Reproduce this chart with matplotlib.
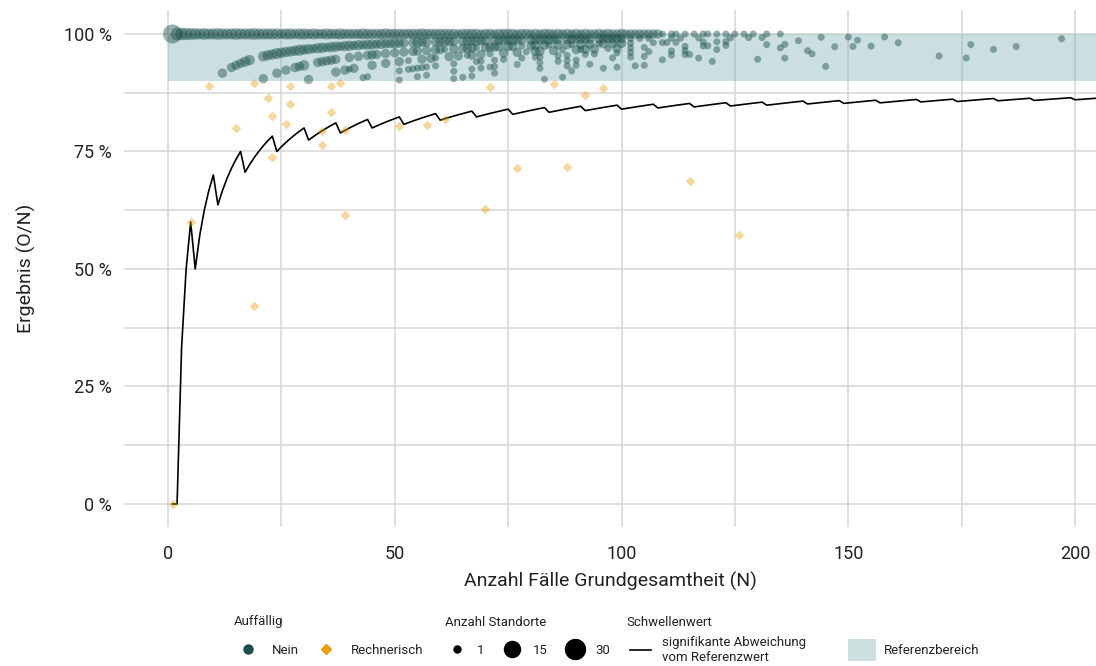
import numpy as np
import pandas as pd
import matplotlib
matplotlib.use("Agg")
import matplotlib.pyplot as plt
from matplotlib.lines import Line2D
from matplotlib.patches import Patch
from matplotlib.ticker import FuncFormatter, MultipleLocator

plt.rcParams["font.family"] = ["Roboto", "DejaVu Sans"]

# Standorte mit O = N (100 %): Fallzahl N und Anzahl Standorte
voll_n = [1, 2, 3, 4, 5, 6, 7, 8, 9, 10, 11, 12, 13, 14, 15, 16, 17, 18, 19, 20,
          21, 22, 23, 24, 25, 26, 27, 28, 29, 30, 31, 32, 33, 34, 35, 36, 37, 38, 39, 40,
          41, 42, 43, 44, 45, 46, 47, 48, 49, 50, 51, 52, 53, 54, 55, 56, 57, 58, 59, 60,
          61, 62, 63, 64, 65, 66, 67, 68, 69, 70, 71, 72, 73, 74, 75, 76, 77, 78, 79, 80,
          81, 82, 83, 84, 85, 86, 87, 88, 89, 90, 91, 92, 93, 94, 95, 96, 97, 98, 99, 100,
          101, 102, 103, 104, 105, 106, 107, 108, 109, 111, 112, 114, 116, 118, 119, 121,
          123, 125, 127, 129, 132, 135]
voll_anzahl = [26, 7, 6, 6, 5, 5, 4, 5, 4, 4, 5, 4, 4, 4, 5, 4, 4, 4, 5, 4,
               4, 4, 4, 4, 3, 4, 4, 3, 4, 4, 3, 4, 3, 3, 4, 3, 3, 4, 3, 3,
               3, 3, 4, 3, 3, 3, 3, 4, 3, 3, 3, 3, 3, 3, 3, 4, 3, 3, 3, 3,
               3, 3, 3, 2, 3, 3, 3, 3, 2, 3, 3, 2, 3, 3, 3, 3, 2, 3, 3, 2,
               3, 2, 3, 3, 2, 3, 2, 3, 2, 3, 2, 3, 2, 2, 3, 2, 3, 2, 2, 3,
               2, 2, 2, 2, 2, 2, 2, 2, 1, 1, 1, 1, 1, 1, 1, 1,
               1, 1, 1, 1, 1, 1]

# Standorte mit O = N - 1
minus1_n = [12, 14, 15, 16, 17, 18, 21, 22, 23, 24, 25, 26, 27, 28, 29, 30,
            31, 32, 33, 34, 35, 36, 37, 38, 39, 40, 41, 42, 43, 44, 45, 46, 47, 48, 49, 50,
            51, 52, 54, 55, 56, 57, 59, 60, 61, 62, 63, 65, 66, 67, 68, 69, 70, 72, 73, 74,
            75, 76, 77, 78, 80, 81, 82, 83, 84, 85, 86, 88, 89, 90, 91, 92, 93, 95, 96, 97,
            98, 99, 100, 102, 104, 106, 111, 113, 117, 124, 128, 131, 144, 150, 158]
minus1_anzahl = [2, 2, 2, 2, 3, 3, 3, 3, 3, 4, 3, 3, 3, 3, 4, 3,
                 3, 2, 3, 3, 2, 3, 3, 2, 3, 3, 2, 3, 2, 3, 3, 2, 3, 2, 2, 3,
                 2, 2, 2, 3, 2, 2, 2, 2, 3, 2, 2, 2, 2, 2, 3, 2, 2, 2, 2, 2,
                 2, 3, 2, 2, 2, 2, 2, 2, 3, 2, 2, 2, 2, 2, 2, 2, 2, 2, 2, 2,
                 2, 2, 2, 1, 1, 1, 1, 1, 1, 1, 1, 1, 1, 1, 1]

# Standorte mit O = N - 2
minus2_n = [21, 24, 26, 28, 29, 30, 33, 34, 35, 36, 37, 40, 42, 44, 45, 46, 48, 50,
            52, 54, 55, 57, 59, 60, 61, 63, 65, 66, 67, 68, 70, 71, 72, 73, 75, 76, 78,
            80, 81, 83, 84, 86, 88, 89, 91, 93, 95, 96, 98, 100, 102, 107, 109,
            110, 112, 118, 121, 123, 139, 152, 197]
minus2_anzahl = [2, 2, 2, 2, 2, 3, 2, 2, 2, 2, 2, 2, 2, 2, 2, 2, 2, 2,
                 2, 2, 2, 2, 2, 2, 1, 2, 2, 2, 2, 1, 2, 2, 2, 2, 2, 2, 1,
                 2, 2, 2, 1, 2, 2, 1, 2, 2, 1, 2, 2, 2, 1, 1, 1,
                 1, 1, 1, 1, 1, 1, 1, 1]

# Standorte mit O = N - 3
minus3_n = [31, 37, 39, 40, 41, 45, 48, 51, 53, 56, 58, 59, 62, 64, 66, 67, 69, 71,
            74, 77, 79, 81, 82, 85, 87, 90, 91, 92, 94, 97, 99, 102, 105, 114, 118, 119,
            123, 132, 136, 161]
minus3_anzahl = [2, 2, 2, 1, 2, 2, 2, 2, 1, 2, 2, 1, 2, 2, 1, 2, 2, 1,
                 2, 2, 1, 2, 2, 2, 1, 2, 1, 2, 2, 1, 2, 1, 1, 1, 1, 1,
                 1, 1, 1, 1]

# Standorte mit O = N - 4 (je ein Standort)
minus4_n = [43, 44, 51, 53, 54, 55, 56, 57, 59, 63, 68, 69, 72, 74, 78, 81, 82, 86,
            88, 92, 94, 99, 102, 106, 111, 114, 121, 135, 151, 155, 177]

# weitere einzelne Standorte im Referenzbereich (N, O)
einzel_n = [51, 55, 57, 63, 63, 65, 67, 67, 69, 71, 72, 72, 77, 82, 82, 83, 86, 87,
            88, 88, 89, 90, 90, 93, 96, 98, 99, 102, 103, 105, 105, 109, 111, 114, 115,
            117, 120, 130, 136, 141, 142, 145, 147, 170, 176, 182, 187]
einzel_o = [46, 50, 52, 58, 57, 59, 61, 62, 64, 66, 67, 66, 72, 77, 76, 75, 81, 79,
            83, 82, 82, 85, 84, 87, 89, 93, 92, 97, 96, 98, 100, 103, 106, 109, 110,
            111, 113, 123, 129, 136, 136, 135, 143, 162, 167, 176, 182]

# rechnerisch auffällige Standorte (N, O)
auff_n = [1, 5, 9, 15, 19, 19, 22, 23, 23, 26, 27, 27, 34, 34, 36, 36, 38, 39, 39,
          51, 57, 61, 70, 71, 77, 85, 88, 92, 96, 115, 126]
auff_o = [0, 3, 8, 12, 8, 17, 19, 19, 17, 21, 24, 23, 27, 26, 32, 30, 34, 31, 24,
          41, 46, 50, 44, 63, 55, 76, 63, 80, 85, 79, 72]

# Schwellenwert: Fallzahlen, ab denen eine weitere Abweichung zulässig ist
schwelle_sprung = [2, 6, 11, 17, 24, 31, 38, 45, 52, 60, 68, 76, 84, 92, 100, 108,
                   116, 124, 132, 141, 149, 157, 166, 174, 183, 191, 200]
schwelle_n_max = 205

ref_unten, ref_oben = 90, 100

FARBE_NEIN = "#1b4f4b"
FARBE_RECH = "#e89f00"
FARBE_REF = "#7fb0b4"
FARBE_GRID = "#d6d6d6"
FARBE_TEXT = "#222222"


def punkt_groesse(anzahl):
    # Durchmesser in px (Flaeche ~ Anzahl), zurueck als pt^2 fuer scatter
    d_px = 7 + 13 * np.sqrt((np.asarray(anzahl, float) - 1) / 29)
    return (d_px * 0.72) ** 2


gruen = pd.concat([
    pd.DataFrame({"n": voll_n, "o": voll_n, "anzahl": voll_anzahl}),
    pd.DataFrame({"n": minus1_n, "o": np.array(minus1_n) - 1, "anzahl": minus1_anzahl}),
    pd.DataFrame({"n": minus2_n, "o": np.array(minus2_n) - 2, "anzahl": minus2_anzahl}),
    pd.DataFrame({"n": minus3_n, "o": np.array(minus3_n) - 3, "anzahl": minus3_anzahl}),
    pd.DataFrame({"n": minus4_n, "o": np.array(minus4_n) - 4, "anzahl": 1}),
    pd.DataFrame({"n": einzel_n, "o": einzel_o, "anzahl": 1}),
], ignore_index=True)
gruen["wert"] = gruen["o"] / gruen["n"] * 100

auff = pd.DataFrame({"n": auff_n, "o": auff_o})
auff["wert"] = auff["o"] / auff["n"] * 100

sn = np.arange(1, schwelle_n_max + 1)
zulaessig = 1 + np.searchsorted(schwelle_sprung, sn, side="right")
schwelle = (sn - zulaessig) / sn * 100

fig = plt.figure(figsize=(10.96, 6.66), dpi=100)
ax = fig.add_axes([124 / 1096, 1 - 527 / 666, 1 - 124 / 1096, 517 / 666])

ax.set_xlim(-9.7, 204.6)
ax.set_ylim(-4.9, 105.1)
ax.xaxis.set_major_locator(MultipleLocator(50))
ax.xaxis.set_minor_locator(MultipleLocator(25))
ax.yaxis.set_major_locator(MultipleLocator(25))
ax.yaxis.set_minor_locator(MultipleLocator(12.5))
ax.yaxis.set_major_formatter(FuncFormatter(lambda v, p: f"{int(v)} %"))
ax.grid(True, which="both", color=FARBE_GRID, lw=1.1)
ax.set_axisbelow(True)
for s in ax.spines.values():
    s.set_visible(False)
ax.tick_params(which="both", length=0, labelsize=13, colors=FARBE_TEXT)
ax.tick_params(axis="y", pad=9)
ax.tick_params(axis="x", pad=13)

ax.fill_between([0, 210], ref_unten, ref_oben, color=FARBE_REF, alpha=0.4, lw=0, zorder=1)
ax.plot(sn, schwelle, color="black", lw=1.2, zorder=3)

ax.scatter(auff["n"], auff["wert"], marker="D", s=24, color=FARBE_RECH, alpha=0.4,
           lw=0, zorder=4)
ax.scatter(gruen["n"], gruen["wert"], s=punkt_groesse(gruen["anzahl"]), color=FARBE_NEIN,
           alpha=0.45, lw=0, zorder=5)

ax.set_xlabel("Anzahl Fälle Grundgesamtheit (N)", fontsize=14, labelpad=6, color=FARBE_TEXT)
ax.set_ylabel("Ergebnis (O/N)", fontsize=14, labelpad=20, color=FARBE_TEXT)

# Legenden unten: Titel als Text, Eintraege als eigene Legenden
y_titel = 1 - 622 / 666
y_eintrag = 1 - 650 / 666
for x_px, titel in [(234, "Auffällig"), (445, "Anzahl Standorte"), (626, "Schwellenwert")]:
    fig.text(x_px / 1096, y_titel, titel, fontsize=9.5, color=FARBE_TEXT, va="center")

leg_kw = dict(frameon=False, fontsize=9.5, loc="center left", borderaxespad=0,
              borderpad=0, labelspacing=0.3, labelcolor=FARBE_TEXT)

h1 = [Line2D([], [], ls="", marker="o", ms=6.5, color=FARBE_NEIN),
      Line2D([], [], ls="", marker="D", ms=5, color=FARBE_RECH)]
fig.legend(h1, ["Nein", "Rechnerisch"], ncol=2, bbox_to_anchor=(238 / 1096, y_eintrag),
           handlelength=1.5, handletextpad=1.1, columnspacing=1.3, **leg_kw)

groessen = [1, 15, 30]
h2 = [Line2D([], [], ls="", marker="o", ms=np.sqrt(punkt_groesse(g)), color="black")
      for g in groessen]
fig.legend(h2, [str(g) for g in groessen], ncol=3, bbox_to_anchor=(446 / 1096, y_eintrag),
           handlelength=1.6, handletextpad=0.75, columnspacing=1.3, **leg_kw)

h3 = [Line2D([], [], color="black", lw=1.2)]
fig.legend(h3, ["signifikante Abweichung\nvom Referenzwert"],
           bbox_to_anchor=(630 / 1096, y_eintrag), handlelength=1.6, handletextpad=0.8,
           **leg_kw)

h4 = [Patch(facecolor=FARBE_REF, alpha=0.4, lw=0)]
fig.legend(h4, ["Referenzbereich"], bbox_to_anchor=(848 / 1096, y_eintrag),
           handlelength=2.1, handleheight=2.3, handletextpad=0.6, **leg_kw)

fig.savefig("out.png", dpi=100)
